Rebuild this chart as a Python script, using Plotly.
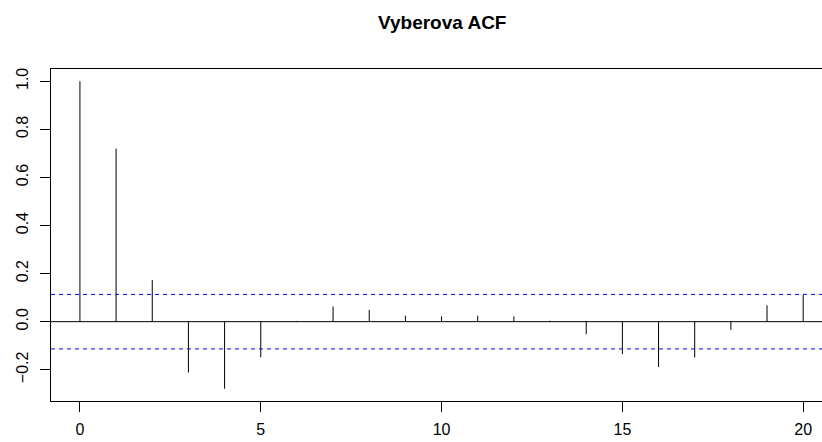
import plotly.graph_objects as go

# Sample autocorrelation by lag
lags = list(range(21))
acf_values = [1.0, 0.72, 0.173, -0.212, -0.279, -0.148, 0.003, 0.063, 0.049,
              0.025, 0.022, 0.025, 0.022, 0.004, -0.052, -0.135, -0.189,
              -0.149, -0.034, 0.068, 0.111]
conf_limit = 0.1134  # 1.96 / sqrt(n)

x_ticks = [0, 5, 10, 15, 20]
y_ticks = [-0.2, 0.0, 0.2, 0.4, 0.6, 0.8, 1.0]
y_tick_text = ["\u22120.2", "0.0", "0.2", "0.4", "0.6", "0.8", "1.0"]

# vertical spikes from zero to each autocorrelation value
spike_x, spike_y = [], []
for lag, val in zip(lags, acf_values):
    spike_x += [lag, lag, None]
    spike_y += [0, val, None]

fig = go.Figure()
fig.add_trace(go.Scatter(x=spike_x, y=spike_y, mode="lines",
                         line=dict(color="black", width=1),
                         hoverinfo="skip", showlegend=False))

# zero line and confidence bounds across the whole panel
fig.add_shape(type="line", xref="paper", yref="y", x0=0, x1=1, y0=0, y1=0,
              line=dict(color="black", width=1), layer="below")
for lim in (conf_limit, -conf_limit):
    fig.add_shape(type="line", xref="paper", yref="y", x0=0, x1=1, y0=lim, y1=lim,
                  line=dict(color="#0000FF", width=1, dash="4px,4px"))

fig.add_annotation(text="<b>Vyberova ACF</b>", xref="x", yref="paper",
                   x=10, y=1, yshift=59, showarrow=False,
                   font=dict(family="Liberation Sans, Arial, sans-serif",
                             size=19, color="black"))

axis_font = dict(family="Liberation Sans, Arial, sans-serif", size=16, color="black")

fig.update_layout(
    width=822, height=442,
    margin=dict(l=51, r=0, t=69, b=41),
    plot_bgcolor="white", paper_bgcolor="white",
    hovermode=False,
    xaxis=dict(range=[-0.8, 20.52], tickvals=x_ticks, ticktext=[str(t) for t in x_ticks],
               showgrid=False, zeroline=False, showline=True, mirror=True,
               linecolor="black", linewidth=1, ticks="outside", ticklen=10,
               tickcolor="black", tickwidth=1, tickfont=axis_font,
               ticklabelstandoff=4),
    yaxis=dict(range=[-0.330, 1.051], tickvals=y_ticks, ticktext=y_tick_text,
               showgrid=False, zeroline=False, showline=True, mirror=False,
               linecolor="black", linewidth=1, ticks="outside", ticklen=10,
               tickcolor="black", tickwidth=1, tickfont=axis_font,
               tickangle=-90, ticklabelstandoff=6),
)

fig.write_html("out.html")
